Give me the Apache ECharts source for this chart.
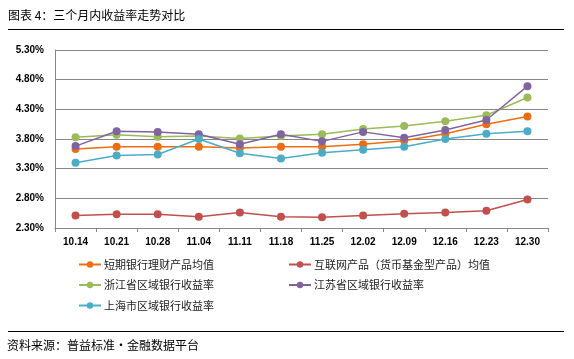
<!DOCTYPE html>
<html><head><meta charset="utf-8">
<script src="https://cdn.jsdelivr.net/npm/echarts@6/dist/echarts.min.js"></script>
<style>html,body{margin:0;padding:0;background:#fff}#c{width:574px;height:359px}</style>
</head><body><div id="c"></div>
<script>
const categories = ['10.14','10.21','10.28','11.04','11.11','11.18','11.25','12.02','12.09','12.16','12.23','12.30'];
const shortBank   = [3.63,3.67,3.67,3.67,3.65,3.67,3.67,3.71,3.77,3.89,4.05,4.18];
const internet    = [2.51,2.53,2.53,2.49,2.56,2.49,2.48,2.51,2.54,2.56,2.59,2.78];
const zhejiang    = [3.83,3.87,3.84,3.85,3.81,3.85,3.88,3.97,4.02,4.10,4.20,4.50];
const jiangsu     = [3.68,3.93,3.92,3.88,3.71,3.88,3.76,3.92,3.82,3.95,4.12,4.69];
const shanghai    = [3.40,3.52,3.54,3.80,3.56,3.47,3.57,3.62,3.67,3.80,3.89,3.93];
const seriesNames = ['短期银行理财产品均值','互联网产品（货币基金型产品）均值','浙江省区域银行收益率','江苏省区域银行收益率','上海市区域银行收益率'];
const seriesData = [shortBank, internet, zhejiang, jiangsu, shanghai];
const colors = ['#EC6D12','#C0504D','#9BBB59','#8064A2','#4BACC6'];

const chart = echarts.init(document.getElementById('c'));
const font = '"Liberation Sans", Arial, "Noto Sans CJK SC", sans-serif';
const cjk = '"Noto Sans CJK SC", "Liberation Sans", sans-serif';
const legendBase = {orient: 'vertical', top: 259, padding: 0, itemWidth: 22, itemHeight: 8, itemGap: 9.5,
  textStyle: {fontSize: 11, color: '#222', fontFamily: cjk, padding: [0, 0, 0, -2]}};
chart.setOption({
  animation: false,
  color: colors,
  grid: {left: 55, right: 26, top: 50, bottom: 131},
  xAxis: {
    type: 'category', data: categories, boundaryGap: true,
    axisLine: {lineStyle: {color: '#868686', width: 1}},
    axisTick: {show: true, inside: false, length: 4, lineStyle: {color: '#868686'}},
    axisLabel: {color: '#000', fontWeight: 'bold', fontSize: 10, fontFamily: font, margin: 9}
  },
  yAxis: {
    type: 'value', min: 2.3, max: 5.3, interval: 0.5,
    axisLine: {show: true, lineStyle: {color: '#868686', width: 1}},
    axisTick: {show: false},
    splitLine: {lineStyle: {color: '#868686', width: 1}},
    axisLabel: {color: '#000', fontWeight: 'bold', fontSize: 10, fontFamily: font, margin: 11,
      formatter: v => v.toFixed(2) + '%'}
  },
  legend: [
    Object.assign({left: 78, data: [seriesNames[0], seriesNames[2], seriesNames[4]]}, legendBase),
    Object.assign({left: 288, data: [seriesNames[1], seriesNames[3]]}, legendBase)
  ],
  series: seriesNames.map((n, i) => ({
    name: n, type: 'line', data: seriesData[i],
    symbol: 'circle', symbolSize: 8,
    lineStyle: {width: 1.5, color: colors[i]},
    itemStyle: {color: colors[i]}
  })),
  graphic: [
    {type: 'text', left: 8, top: 9, style: {text: '图表 4：三个月内收益率走势对比', font: '12px ' + cjk, fill: '#000'}},
    {type: 'line', shape: {x1: 8, y1: 29.5, x2: 564, y2: 29.5}, style: {stroke: '#000', lineWidth: 1}},
    {type: 'line', shape: {x1: 8, y1: 331.5, x2: 564, y2: 331.5}, style: {stroke: '#000', lineWidth: 1}},
    {type: 'text', left: 7, top: 339, style: {text: '资料来源：普益标准・金融数据平台', font: '12px ' + cjk, fill: '#000'}}
  ]
});
</script></body></html>
